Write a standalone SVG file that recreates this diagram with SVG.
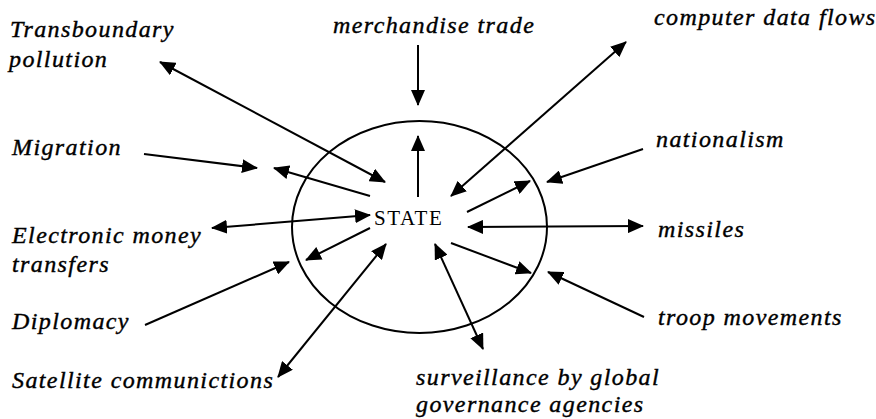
<svg xmlns="http://www.w3.org/2000/svg" width="876" height="419" viewBox="0 0 876 419">
<defs>
<style>
.lbl{font-family:"Liberation Serif","Times New Roman",serif;font-style:italic;font-size:24px;letter-spacing:1.4px;fill:#000;stroke:#000;stroke-width:0.4}
.state{font-family:"Liberation Serif","Times New Roman",serif;font-size:21px;letter-spacing:1.6px;fill:#000}
.ln{stroke:#000;stroke-width:2;fill:none}
.a1{marker-end:url(#ah)}
.a2{marker-end:url(#ah);marker-start:url(#ah)}
</style>
<marker id="ah" viewBox="0 0 16 14" refX="15" refY="7" markerWidth="16" markerHeight="14" markerUnits="userSpaceOnUse" orient="auto-start-reverse">
<path d="M0,0 L16,7 L0,14 z" fill="#000"/>
</marker>
</defs>
<rect width="876" height="419" fill="#fff"/>
<g id="state">
<ellipse cx="419.5" cy="227" rx="127.5" ry="106" fill="none" stroke="#000" stroke-width="2"/>
<text class="state" x="374" y="225">STATE</text>
</g>
<g id="connectors">
<line class="ln a2" x1="160" y1="62" x2="385" y2="182"/>
<line class="ln a1" x1="418" y1="45" x2="418" y2="105"/>
<line class="ln a1" x1="418" y1="197" x2="418" y2="136"/>
<line class="ln a1" x1="144" y1="154" x2="257" y2="168"/>
<line class="ln a1" x1="370" y1="196" x2="274" y2="168"/>
<line class="ln a2" x1="626" y1="42" x2="451" y2="196"/>
<line class="ln a1" x1="643" y1="149" x2="547" y2="182"/>
<line class="ln a1" x1="467" y1="212" x2="530" y2="181"/>
<line class="ln a2" x1="212" y1="228" x2="370" y2="215"/>
<line class="ln a1" x1="370" y1="228" x2="306" y2="260"/>
<line class="ln a2" x1="468" y1="227" x2="643" y2="226"/>
<line class="ln a1" x1="145" y1="325" x2="289" y2="262"/>
<line class="ln a1" x1="644" y1="317" x2="548" y2="272"/>
<line class="ln a1" x1="451" y1="243" x2="531" y2="273"/>
<line class="ln a2" x1="278" y1="377" x2="386" y2="244"/>
<line class="ln a2" x1="435" y1="244" x2="483" y2="349"/>
</g>
<g id="n-transboundary"><text class="lbl" x="10" y="37">Transboundary</text><text class="lbl" x="9" y="67">pollution</text></g>
<g id="n-merchandise"><text class="lbl" x="333" y="33">merchandise trade</text></g>
<g id="n-computer"><text class="lbl" x="654" y="25">computer data flows</text></g>
<g id="n-migration"><text class="lbl" x="12" y="155">Migration</text></g>
<g id="n-nationalism"><text class="lbl" x="656" y="147">nationalism</text></g>
<g id="n-electronic"><text class="lbl" x="12" y="243">Electronic money</text><text class="lbl" x="12" y="272">transfers</text></g>
<g id="n-missiles"><text class="lbl" x="658" y="237">missiles</text></g>
<g id="n-diplomacy"><text class="lbl" x="12" y="329">Diplomacy</text></g>
<g id="n-troop"><text class="lbl" x="658" y="325">troop movements</text></g>
<g id="n-satellite"><text class="lbl" x="12" y="388">Satellite communictions</text></g>
<g id="n-surveillance"><text class="lbl" x="416" y="385">surveillance by global</text><text class="lbl" x="416" y="412">governance agencies</text></g>
</svg>
